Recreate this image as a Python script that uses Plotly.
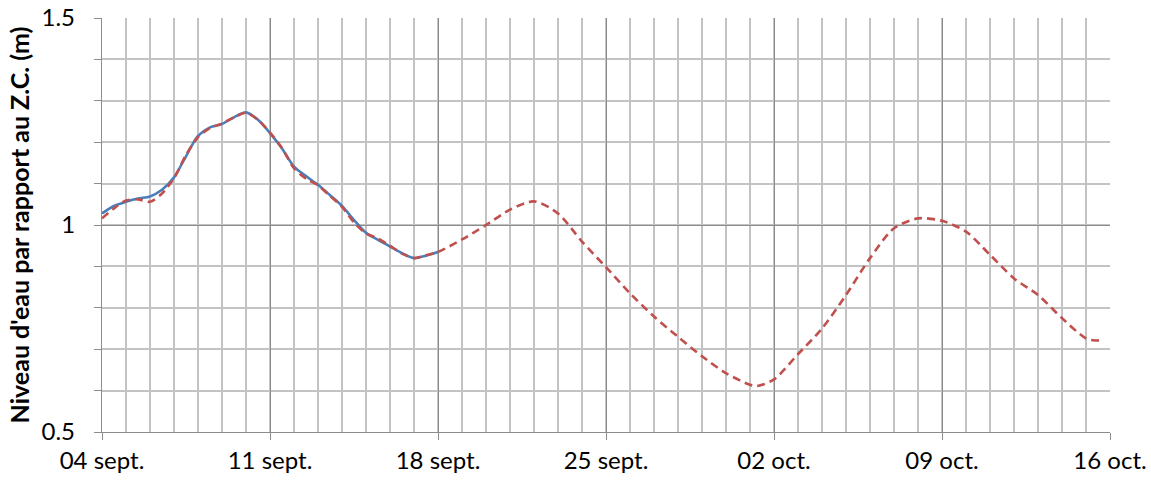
import pandas as pd
import plotly.graph_objects as go

# ---- data (day offsets from 04 sept.) ----
start_date = "2014-09-04"

measured_days = [0, 0.5, 1, 1.5, 2, 2.5, 3, 3.5, 4, 4.5, 5, 5.5, 6, 6.5, 7,
                 7.5, 8, 8.5, 9, 9.5, 10, 10.5, 11, 11.5, 12, 12.5, 13, 13.5, 14]
measured_values = [1.028, 1.046, 1.056, 1.064, 1.069, 1.085, 1.115, 1.166, 1.215,
                   1.236, 1.244, 1.260, 1.272, 1.254, 1.222, 1.185, 1.141, 1.118,
                   1.097, 1.072, 1.046, 1.012, 0.981, 0.964, 0.948, 0.932, 0.920,
                   0.926, 0.935]

predicted_days = [0, 0.5, 1, 1.5, 2, 2.5, 3, 3.5, 4, 4.5, 5, 5.5, 6, 6.5, 7,
                  7.5, 8, 8.5, 9, 9.5, 10, 10.5, 11, 11.5, 12, 12.5, 13, 13.5, 14,
                  15, 16, 17, 18, 19, 20, 21, 22, 23, 24, 25, 26, 27, 27.3, 28,
                  29, 30, 31, 32, 33, 34, 35, 36, 37, 38, 39, 40, 41, 41.4, 41.67]
predicted_values = [1.016, 1.040, 1.059, 1.062, 1.056, 1.076, 1.113, 1.169, 1.212,
                    1.234, 1.245, 1.260, 1.271, 1.254, 1.223, 1.186, 1.137, 1.112,
                    1.096, 1.070, 1.044, 1.006, 0.980, 0.967, 0.950, 0.931, 0.920,
                    0.927, 0.935,
                    0.965, 1.000, 1.037, 1.057, 1.028, 0.960, 0.898, 0.835, 0.779,
                    0.730, 0.683, 0.642, 0.614, 0.611, 0.627, 0.688, 0.750, 0.831,
                    0.920, 0.992, 1.016, 1.010, 0.984, 0.928, 0.871, 0.831, 0.775,
                    0.726, 0.721, 0.722]

tick_dates = ["2014-09-04", "2014-09-11", "2014-09-18", "2014-09-25",
              "2014-10-02", "2014-10-09", "2014-10-16"]
tick_labels = ["04 sept.", "11 sept.", "18 sept.", "25 sept.",
               "02 oct.", "09 oct.", "16 oct."]

y_tick_values = [0.5, 1, 1.5]
y_tick_labels = ["0.5", "1", "1.5"]

y_title = "Niveau d'eau par rapport au Z.C. (m)"

# ---- build ----
t0 = pd.Timestamp(start_date)
meas_x = [t0 + pd.Timedelta(days=d) for d in measured_days]
pred_x = [t0 + pd.Timedelta(days=d) for d in predicted_days]

FONT = "Lato"
MINOR = "#c3c3c3"
MAJOR = "#8c8c8c"

fig = go.Figure()
fig.add_trace(go.Scatter(x=meas_x, y=measured_values, mode="lines",
                         line=dict(color="#4A7EBB", width=2.6, shape="spline", smoothing=0.8),
                         showlegend=False, name="Mesuré"))
fig.add_trace(go.Scatter(x=pred_x, y=predicted_values, mode="lines",
                         line=dict(color="#C0504D", width=2.6, dash="8px,5px",
                                   shape="spline", smoothing=0.8),
                         showlegend=False, name="Prédit"))

DAY_MS = 86400000
fig.update_layout(
    width=1151, height=483,
    margin=dict(l=102, r=41, t=18, b=51, autoexpand=False),
    paper_bgcolor="white", plot_bgcolor="white",
    font=dict(family=FONT, size=24, color="black"),
    xaxis=dict(
        type="date",
        range=[tick_dates[0], tick_dates[-1]],
        tickmode="array", tickvals=tick_dates, ticktext=tick_labels,
        showgrid=True, gridcolor=MAJOR, gridwidth=1.3,
        showline=True, linecolor=MAJOR, linewidth=1.3,
        ticks="outside", ticklen=7, tickcolor=MAJOR, tickwidth=1.3,
        minor=dict(dtick=DAY_MS, tick0=tick_dates[0], showgrid=True,
                   gridcolor=MINOR, gridwidth=1.6, ticks=""),
        tickfont=dict(family=FONT, size=24),
        ticklabeloverflow="allow",
        zeroline=False, mirror=False, automargin=False,
    ),
    yaxis=dict(
        range=[0.5, 1.5],
        tickmode="array", tickvals=y_tick_values, ticktext=y_tick_labels,
        showgrid=True, gridcolor=MAJOR, gridwidth=1.3,
        showline=True, linecolor=MAJOR, linewidth=1.3,
        ticks="outside", ticklen=7, tickcolor=MAJOR, tickwidth=1.3,
        minor=dict(dtick=0.1, tick0=0.5, showgrid=True, gridcolor=MINOR,
                   gridwidth=1.6, ticks="outside", ticklen=7, tickcolor=MAJOR),
        tickfont=dict(family=FONT, size=24),
        ticklabeloverflow="allow",
        ticklabelstandoff=14,
        title=dict(text="<b>" + y_title + "</b>", font=dict(family=FONT, size=25),
                   standoff=4),
        zeroline=False, automargin=False,
    ),
)

fig.write_html("out.html", config={"displayModeBar": False},
               post_script="document.body.style.margin='0';")
